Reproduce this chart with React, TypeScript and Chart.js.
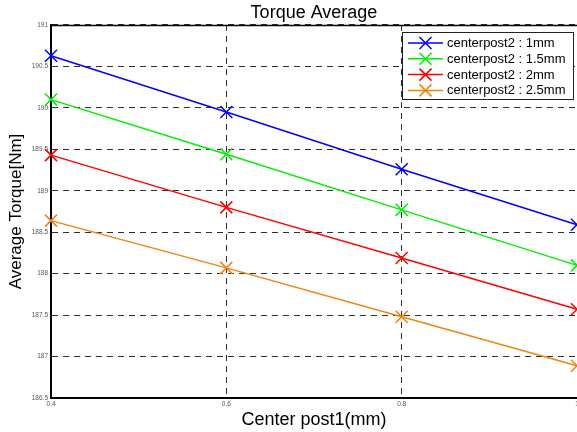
import React, { useEffect, useRef } from "react";
import { Chart, registerables } from "chart.js";

Chart.register(...registerables);

const TITLE = "Torque Average";
const X_TITLE = "Center post1(mm)";
const Y_TITLE = "Average Torque[Nm]";

const xValues = [0.4, 0.6, 0.8, 1.0];
const seriesLabels = [
  "centerpost2 : 1mm",
  "centerpost2 : 1.5mm",
  "centerpost2 : 2mm",
  "centerpost2 : 2.5mm",
];
const torque1mm = [190.63, 189.95, 189.26, 188.59];
const torque15mm = [190.1, 189.44, 188.77, 188.1];
const torque2mm = [189.43, 188.8, 188.19, 187.57];
const torque25mm = [188.64, 188.07, 187.48, 186.89];
const seriesColors = ["#0000ff", "#00ee00", "#ff0000", "#ee8412"];

const FONT = '"Liberation Sans", Arial, Helvetica, sans-serif';

function drawX(ctx: CanvasRenderingContext2D, x: number, y: number, r: number) {
  ctx.beginPath();
  ctx.moveTo(x - r, y - r);
  ctx.lineTo(x + r, y + r);
  ctx.moveTo(x - r, y + r);
  ctx.lineTo(x + r, y - r);
  ctx.stroke();
}

const decorPlugin = {
  id: "decor",
  afterDraw(chart: any) {
    const { ctx, chartArea } = chart;
    const { left, right, top, bottom } = chartArea;
    ctx.save();
    ctx.setLineDash([]);
    ctx.strokeStyle = "#000";
    ctx.lineWidth = 1.5;
    ctx.beginPath();
    ctx.moveTo(left, top + 0.5);
    ctx.lineTo(right, top + 0.5);
    ctx.stroke();

    ctx.fillStyle = "#000";
    ctx.textAlign = "center";
    ctx.textBaseline = "middle";
    ctx.font = `18px ${FONT}`;
    ctx.fillText(X_TITLE, (left + right) / 2, 420);
    ctx.save();
    ctx.font = `17px ${FONT}`;
    ctx.translate(16, (top + bottom) / 2);
    ctx.rotate(-Math.PI / 2);
    ctx.fillText(Y_TITLE, 0, 0);
    ctx.restore();

    const boxW = 171;
    const boxH = 67;
    const bx = right - 175;
    const by = top + 7;
    ctx.fillStyle = "#fff";
    ctx.fillRect(bx, by, boxW, boxH);
    ctx.strokeStyle = "#222";
    ctx.lineWidth = 1;
    ctx.strokeRect(bx + 0.5, by + 0.5, boxW, boxH);
    ctx.font = `13px ${FONT}`;
    ctx.textAlign = "left";
    ctx.textBaseline = "middle";
    chart.data.datasets.forEach((ds: any, i: number) => {
      const yy = by + 11 + i * 15.8;
      ctx.strokeStyle = ds.borderColor;
      ctx.lineWidth = 1.5;
      ctx.beginPath();
      ctx.moveTo(bx + 6, yy);
      ctx.lineTo(bx + 41, yy);
      ctx.stroke();
      drawX(ctx, bx + 23.5, yy, 6);
      ctx.fillStyle = "#000";
      ctx.fillText(ds.label, bx + 45, yy + 0.5);
    });
    ctx.restore();
  },
};

export default function App() {
  const ref = useRef<HTMLCanvasElement>(null);
  useEffect(() => {
    if (!ref.current) return;
    const allSeries = [torque1mm, torque15mm, torque2mm, torque25mm];
    const chart = new Chart(ref.current, {
      type: "line",
      data: {
        datasets: allSeries.map((vals, i) => ({
          label: seriesLabels[i],
          data: xValues.map((x, j) => ({ x, y: vals[j] })),
          borderColor: seriesColors[i],
          backgroundColor: seriesColors[i],
          borderWidth: 1.5,
          pointStyle: "crossRot",
          pointRadius: 8.5,
          pointBorderWidth: 1.5,
          pointBorderColor: seriesColors[i],
          tension: 0,
          fill: false,
          clip: false,
        })),
      },
      options: {
        animation: false,
        responsive: false,
        maintainAspectRatio: false,
        layout: { padding: { left: 0, right: 0, top: 0, bottom: 0 } },
        plugins: {
          legend: { display: false },
          tooltip: { enabled: false },
          title: {
            display: true,
            text: TITLE,
            fullSize: false,
            color: "#000",
            font: { family: FONT, size: 18, weight: "normal" },
            padding: { top: 2, bottom: 1.4 },
          },
        },
        scales: {
          x: {
            type: "linear",
            min: 0.4,
            max: 1.0,
            afterFit(scale: any) {
              scale.height = 34;
            },
            ticks: {
              stepSize: 0.2,
              padding: 2,
              color: "#555",
              font: { family: FONT, size: 6.5 },
              callback: (v: any) => String(Math.round(Number(v) * 10) / 10),
            },
            grid: {
              color: "#303030",
              lineWidth: 1,
              drawTicks: false,
            },
            border: { display: true, color: "#000", width: 2, dash: [6, 5] },
          },
          y: {
            type: "linear",
            min: 186.5,
            max: 191,
            afterFit(scale: any) {
              scale.width = 51;
            },
            ticks: {
              stepSize: 0.5,
              padding: 3,
              color: "#555",
              font: { family: FONT, size: 6.5 },
              callback: (v: any) => String(Math.round(Number(v) * 10) / 10),
            },
            grid: {
              color: "#303030",
              lineWidth: 1,
              drawTicks: false,
            },
            border: { display: true, color: "#000", width: 2, dash: [6, 5] },
          },
        },
      },
      plugins: [decorPlugin],
    });
    return () => chart.destroy();
  }, []);
  return (
    <div
      style={{
        position: "fixed",
        left: 0,
        top: 0,
        width: 577,
        height: 432,
        overflow: "hidden",
        background: "#fff",
      }}
    >
      <canvas ref={ref} width={587} height={432} style={{ display: "block" }} />
    </div>
  );
}
